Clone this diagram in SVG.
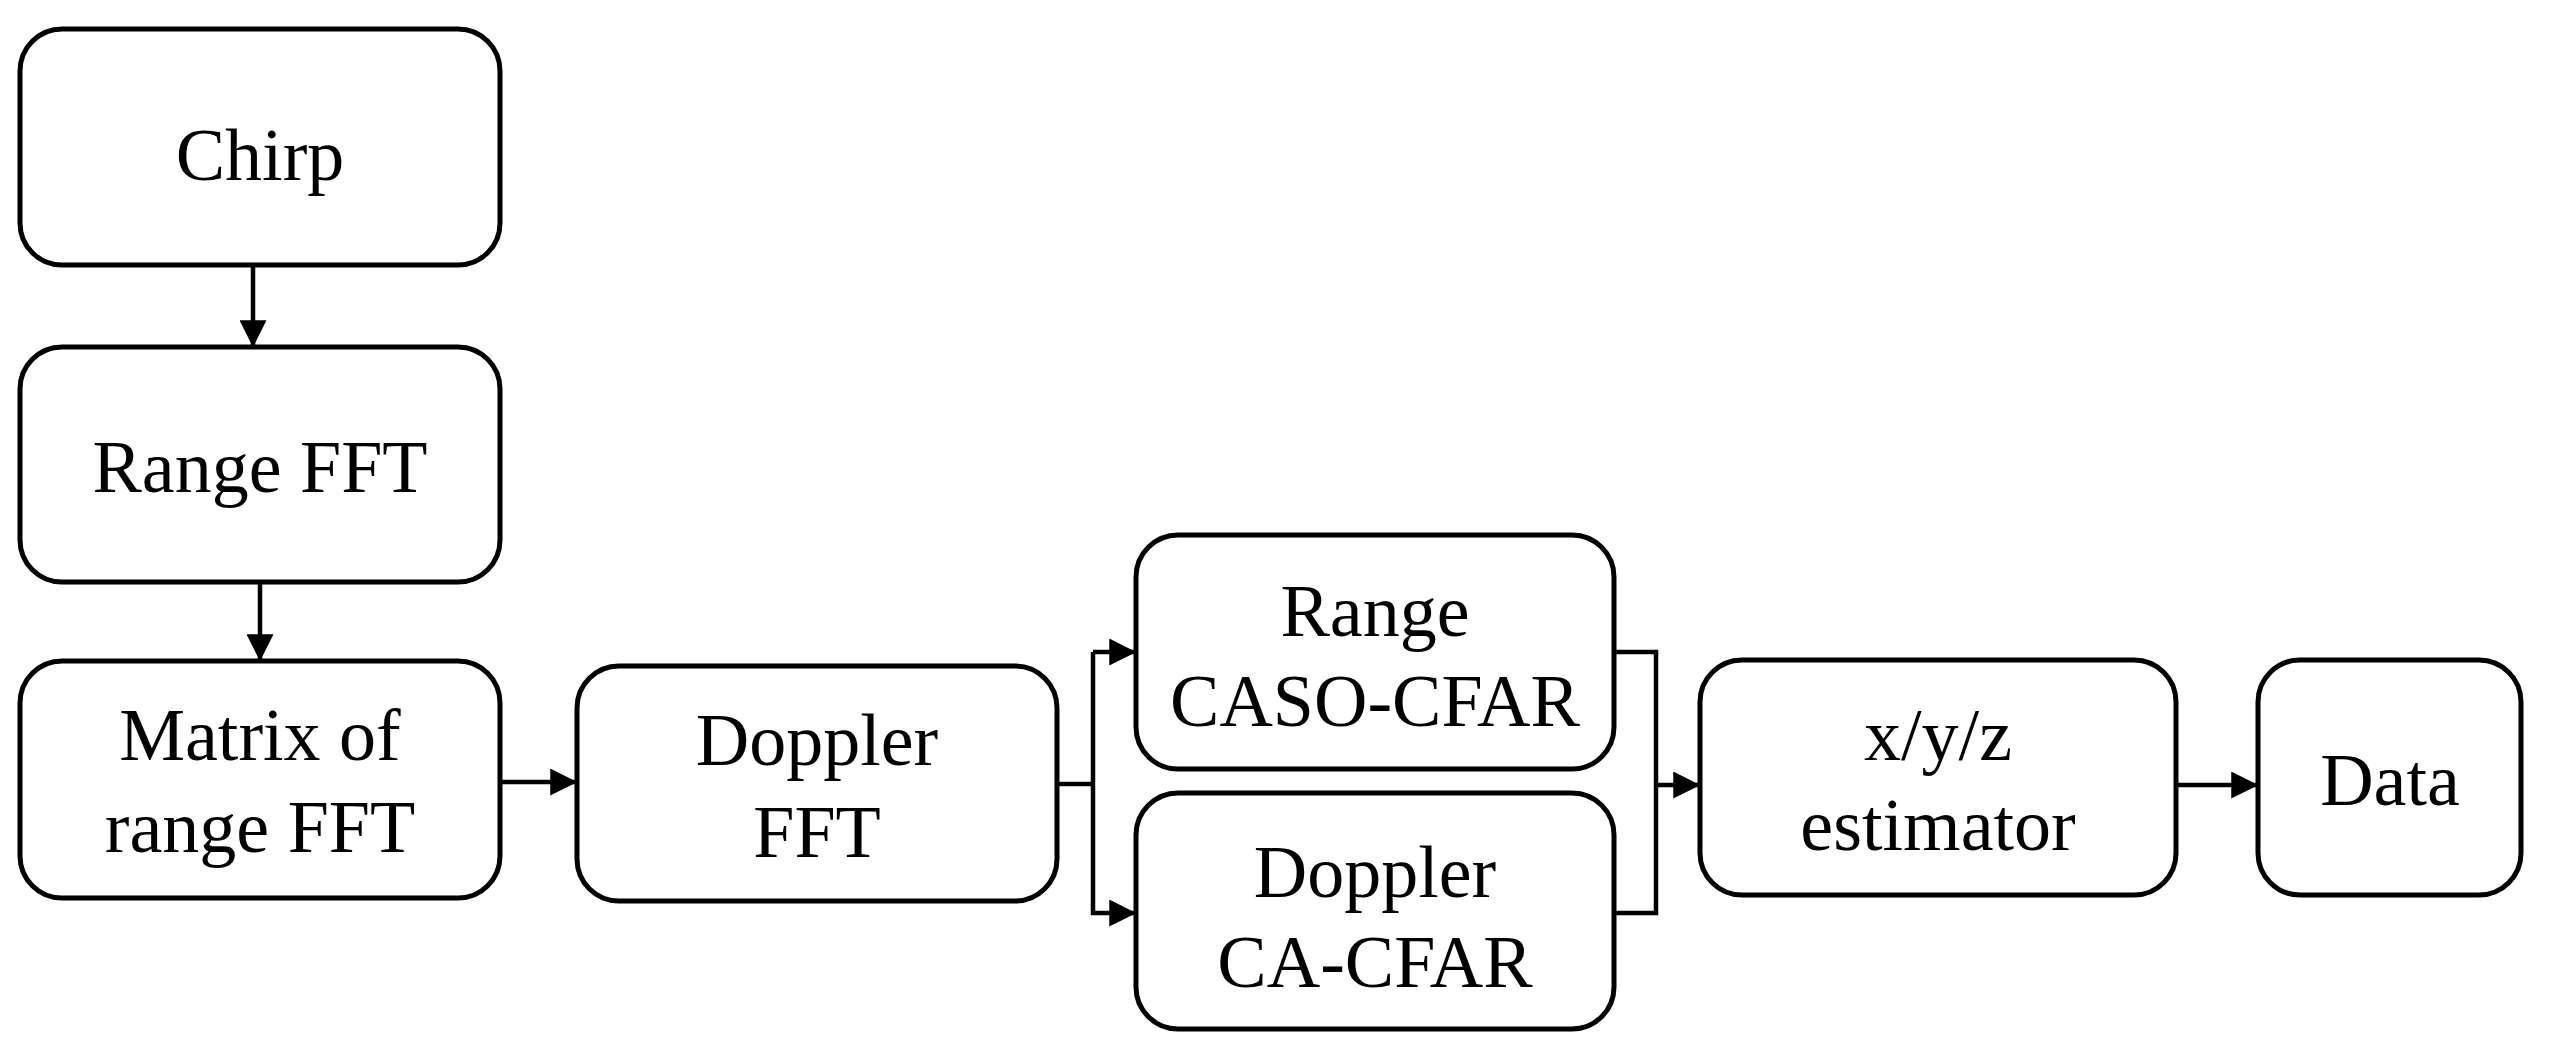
<svg xmlns="http://www.w3.org/2000/svg" width="2553" height="1061" viewBox="0 0 2553 1061">
<style>
.b{fill:#fff;stroke:#000;stroke-width:5}
.t{font-family:"Liberation Serif",serif;font-size:74px;text-anchor:middle;fill:#000}
.c{fill:none;stroke:#000;stroke-width:4.5}
</style>
<defs><marker id="a" markerWidth="6" markerHeight="6" refX="5.5" refY="3" orient="auto" markerUnits="strokeWidth"><path d="M0,0L6,3L0,6z" fill="#000"/></marker></defs>
<rect width="2553" height="1061" fill="#fff"/>
<g id="chirp"><rect class="b" x="20" y="29" width="480" height="236" rx="42"/><text class="t" x="260" y="180">Chirp</text></g>
<g id="rangefft"><rect class="b" x="20" y="347" width="480" height="235" rx="42"/><text class="t" x="260" y="492">Range FFT</text></g>
<g id="matrix"><rect class="b" x="20" y="661" width="480" height="237" rx="42"/><text class="t" x="260" y="760">Matrix of</text><text class="t" x="260" y="852">range FFT</text></g>
<g id="dopplerfft"><rect class="b" x="577" y="666" width="480" height="235" rx="42"/><text class="t" x="817" y="765">Doppler</text><text class="t" x="817" y="857">FFT</text></g>
<g id="caso"><rect class="b" x="1136" y="535" width="478" height="234" rx="42"/><text class="t" x="1375" y="636">Range</text><text class="t" x="1375" y="726">CASO-CFAR</text></g>
<g id="ca"><rect class="b" x="1136" y="793" width="478" height="236" rx="42"/><text class="t" x="1375" y="897">Doppler</text><text class="t" x="1375" y="987">CA-CFAR</text></g>
<g id="xyz"><rect class="b" x="1700" y="660" width="476" height="235" rx="42"/><text class="t" x="1938" y="760">x/y/z</text><text class="t" x="1938" y="850">estimator</text></g>
<g id="data"><rect class="b" x="2258" y="660" width="263" height="235" rx="42"/><text class="t" x="2390" y="805">Data</text></g>
<g id="connectors">
<line class="c" x1="253" y1="265" x2="253" y2="345" marker-end="url(#a)"/>
<line class="c" x1="260" y1="582" x2="260" y2="659" marker-end="url(#a)"/>
<line class="c" x1="500" y1="782" x2="575" y2="782" marker-end="url(#a)"/>
<polyline class="c" points="1057,784 1093,784"/>
<polyline class="c" points="1093,652 1093,913 1134,913" marker-end="url(#a)"/>
<line class="c" x1="1093" y1="652" x2="1134" y2="652" marker-end="url(#a)"/>
<polyline class="c" points="1614,652 1656,652 1656,913 1614,913"/>
<line class="c" x1="1656" y1="785" x2="1698" y2="785" marker-end="url(#a)"/>
<line class="c" x1="2176" y1="785" x2="2256" y2="785" marker-end="url(#a)"/>
</g>
</svg>
